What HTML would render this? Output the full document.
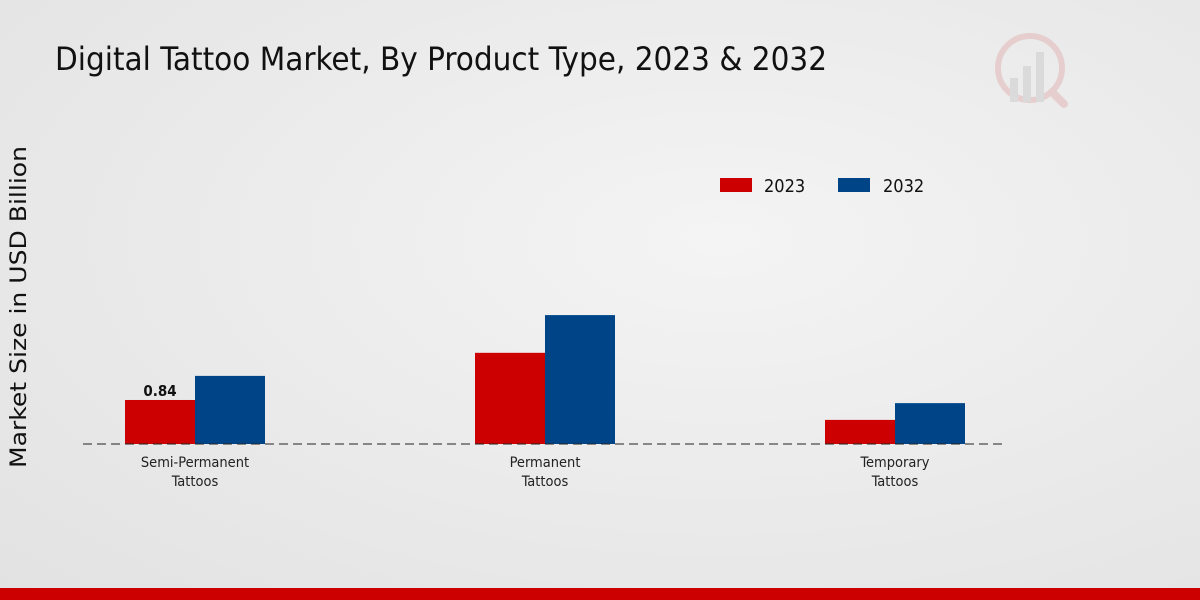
<!DOCTYPE html>
<html><head><meta charset="utf-8"><style>
html,body{margin:0;padding:0;width:1200px;height:600px;overflow:hidden}
body{background:radial-gradient(ellipse at 60% 40%,#f4f4f4 0%,#e9e9e9 60%,#e2e2e2 100%);font-family:"DejaVu Sans Condensed","DejaVu Sans","Liberation Sans",sans-serif}
</style></head><body>
<svg width="1200" height="600" xmlns="http://www.w3.org/2000/svg" style="font-family:'DejaVu Sans Condensed','DejaVu Sans',sans-serif">
<text x="55" y="70" font-size="32" fill="#111" textLength="772" lengthAdjust="spacingAndGlyphs">Digital Tattoo Market, By Product Type, 2023 &amp; 2032</text>
<text transform="translate(26,307) rotate(-90)" text-anchor="middle" font-size="22" fill="#111" textLength="322" lengthAdjust="spacingAndGlyphs" style="font-family:'DejaVu Sans',sans-serif">Market Size in USD Billion</text>
<g opacity="0.35">
<circle cx="1030" cy="68" r="32" fill="none" stroke="#d99" stroke-width="6"/>
<rect x="1010" y="78" width="8" height="24" fill="#bbb"/><rect x="1023" y="66" width="8" height="36" fill="#bbb"/><rect x="1036" y="52" width="8" height="50" fill="#bbb"/>
<line x1="1052" y1="92" x2="1064" y2="104" stroke="#d99" stroke-width="8" stroke-linecap="round"/>
</g>
<g>
<rect x="720" y="178" width="32" height="14" fill="#cc0000"/>
<text x="764" y="192" font-size="18" fill="#111">2023</text>
<rect x="838" y="178" width="32" height="14" fill="#004488"/>
<text x="883" y="192" font-size="18" fill="#111">2032</text>
</g>
<g id="plot"></g>
<rect x="0" y="588" width="1200" height="12" fill="#cc0000"/>
</svg>
<script>
const categories=[["Semi-Permanent","Tattoos"],["Permanent","Tattoos"],["Temporary","Tattoos"]];
const values2023=[0.84,1.74,0.46];
const values2032=[1.30,2.46,0.78];
const labels2023=["0.84",null,null];
const NS="http://www.w3.org/2000/svg";
const g=document.getElementById("plot");
const base=444,scale=52.4;
const y=v=>base-v*scale;
const cx=i=>195+i*350;
function mk(t,a){const e=document.createElementNS(NS,t);for(const k in a)e.setAttribute(k,a[k]);g.appendChild(e);return e;}
categories.forEach((c,i)=>{
 const r1=mk("rect",{x:cx(i)-70,y:y(values2023[i]),width:70,height:values2023[i]*scale,fill:"#cc0000"});
 
 
 const r2=mk("rect",{x:cx(i),y:y(values2032[i]),width:70,height:values2032[i]*scale,fill:"#004488"});
 
 
 c.forEach((l,j)=>{const t=mk("text",{x:cx(i),y:467+j*19,"text-anchor":"middle","font-size":"14.5",fill:"#222"});t.textContent=l;
 
 });
 if(labels2023[i]){const t=mk("text",{x:cx(i)-35,y:y(values2023[i])-4,"text-anchor":"middle","font-size":"15","font-weight":"bold",fill:"#111"});t.textContent=labels2023[i];
 
 }
});
const ax=mk("line",{x1:83,x2:1007,y1:base,y2:base,stroke:"#222","stroke-width":1,"stroke-dasharray":"9,5"});


</script>
</body></html>
